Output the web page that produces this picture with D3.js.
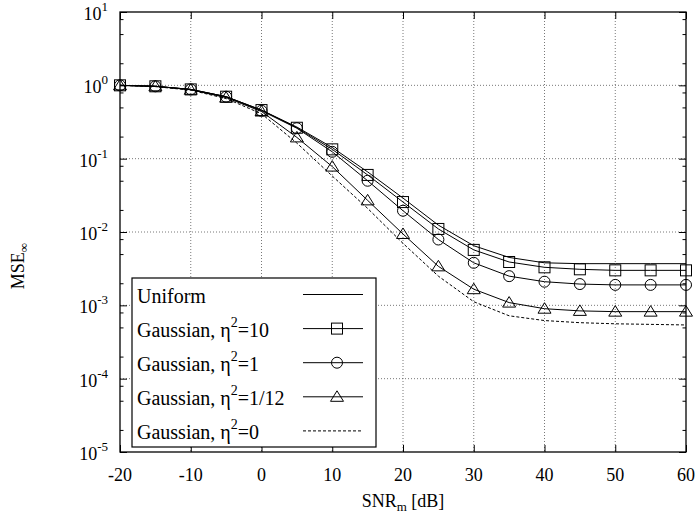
<!DOCTYPE html>
<html>
<head>
<meta charset="utf-8">
<script src="https://cdn.jsdelivr.net/npm/d3@7.9.0/dist/d3.min.js"></script>
<style>
  body { margin: 0; background: #fff; }
  text { font-family: "Liberation Serif", "Times New Roman", serif; fill: #000; }
</style>
</head>
<body>
<svg id="chart" width="699" height="518"></svg>
<script>
// SNR_m in dB
const snr = [-20, -15, -10, -5, 0, 5, 10, 15, 20, 25, 30, 35, 40, 45, 50, 55, 60];

// MSE values
const uniform  = [1.0, 0.97, 0.88, 0.70, 0.46, 0.27, 0.142, 0.066, 0.029, 0.0124, 0.0065, 0.0045, 0.0038, 0.0037, 0.0037, 0.0037, 0.0037];
const gauss10  = [1.0, 0.97, 0.88, 0.70, 0.46, 0.264, 0.134, 0.060, 0.0256, 0.011, 0.0057, 0.0039, 0.0033, 0.0031, 0.0030, 0.0030, 0.0030];
const gauss1   = [1.0, 0.97, 0.88, 0.70, 0.45, 0.26, 0.124, 0.050, 0.0195, 0.0079, 0.0038, 0.0025, 0.0021, 0.00195, 0.0019, 0.0019, 0.0019];
const gauss112 = [1.0, 0.97, 0.87, 0.68, 0.44, 0.195, 0.078, 0.027, 0.0094, 0.0034, 0.00166, 0.00109, 0.0009, 0.00084, 0.00082, 0.00082, 0.00082];
const gauss0   = [1.0, 0.96, 0.86, 0.66, 0.41, 0.163, 0.058, 0.021, 0.0070, 0.0025, 0.00112, 0.00072, 0.00062, 0.00058, 0.00056, 0.00055, 0.00054];

const xTicks = [-20, -10, 0, 10, 20, 30, 40, 50, 60];
const yExps = [1, 0, -1, -2, -3, -4, -5];

const series = [
  { pre: 'Uniform', sup: '', post: '', values: uniform, marker: null, dash: null },
  { pre: 'Gaussian, \u03B7', sup: '2', post: '=10', values: gauss10, marker: 'square', dash: null },
  { pre: 'Gaussian, \u03B7', sup: '2', post: '=1', values: gauss1, marker: 'circle', dash: null },
  { pre: 'Gaussian, \u03B7', sup: '2', post: '=1/12', values: gauss112, marker: 'triangle', dash: null },
  { pre: 'Gaussian, \u03B7', sup: '2', post: '=0', values: gauss0, marker: null, dash: '3,2' }
];

const pLeft = 120, pRight = 686, pTop = 12, pBottom = 452;
const svg = d3.select('#chart');

const x = d3.scaleLinear().domain([-20, 60]).range([pLeft, pRight]);
const y = d3.scaleLog().domain([1e-5, 10]).range([pBottom, pTop]);

const majorY = yExps.map(e => Math.pow(10, e));
let minorY = [];
for (let e = -5; e < 1; e++) [2, 5, 8].forEach(m => minorY.push(m * Math.pow(10, e)));

// grid
const grid = svg.append('g').attr('stroke', '#555').attr('stroke-width', 0.8).attr('stroke-dasharray', '1,2');
xTicks.slice(1, -1).forEach(t => {
  grid.append('line').attr('x1', x(t)).attr('x2', x(t)).attr('y1', pTop).attr('y2', pBottom);
});
majorY.slice(1, -1).forEach(v => {
  grid.append('line').attr('x1', pLeft).attr('x2', pRight).attr('y1', y(v)).attr('y2', y(v));
});

// axes, ticks pointing inward
function styleAxis(g) {
  g.select('.domain').remove();
  g.selectAll('line').attr('stroke', '#000');
  g.selectAll('text').remove();
}
svg.append('g').attr('transform', `translate(0,${pBottom})`)
  .call(d3.axisBottom(x).tickValues(xTicks).tickSize(-7)).call(styleAxis);
svg.append('g').attr('transform', `translate(0,${pTop})`)
  .call(d3.axisTop(x).tickValues(xTicks).tickSize(-7)).call(styleAxis);
svg.append('g').attr('transform', `translate(${pLeft},0)`)
  .call(d3.axisLeft(y).tickValues(majorY).tickSize(-7)).call(styleAxis);
svg.append('g').attr('transform', `translate(${pRight},0)`)
  .call(d3.axisRight(y).tickValues(majorY).tickSize(-7)).call(styleAxis);
svg.append('g').attr('transform', `translate(${pLeft},0)`)
  .call(d3.axisLeft(y).tickValues(minorY).tickSize(-3.5)).call(styleAxis);
svg.append('g').attr('transform', `translate(${pRight},0)`)
  .call(d3.axisRight(y).tickValues(minorY).tickSize(-3.5)).call(styleAxis);

svg.append('rect').attr('x', pLeft).attr('y', pTop).attr('width', pRight - pLeft).attr('height', pBottom - pTop)
  .attr('fill', 'none').attr('stroke', '#000').attr('stroke-width', 1.3);

// tick labels
svg.append('g').selectAll('text').data(xTicks).join('text')
  .attr('x', d => x(d)).attr('y', pBottom + 29)
  .attr('text-anchor', 'middle').attr('font-size', 18).text(d => d);

const yl = svg.append('g').selectAll('text').data(yExps).join('text')
  .attr('x', 108).attr('y', d => y(Math.pow(10, d)) + 8)
  .attr('text-anchor', 'end').attr('font-size', 18);
yl.append('tspan').text('10');
yl.append('tspan').attr('dy', -9).attr('font-size', 13).text(d => d);

// axis titles
const xt = svg.append('text').attr('x', 403).attr('y', 507).attr('text-anchor', 'middle').attr('font-size', 18);
xt.append('tspan').text('SNR');
xt.append('tspan').attr('dy', 4).attr('font-size', 13).text('m');
xt.append('tspan').attr('dy', -4).text(' [dB]');

const yt = svg.append('text').attr('transform', 'translate(24,266) rotate(-90)').attr('text-anchor', 'middle').attr('font-size', 18);
yt.append('tspan').text('MSE');
yt.append('tspan').attr('dy', 4).attr('font-size', 13).text('\u221E');

// markers
function drawMarker(g, type, cx, cy) {
  if (type === 'square') {
    g.append('rect').attr('x', cx - 5.5).attr('y', cy - 5.5).attr('width', 11).attr('height', 11);
  } else if (type === 'circle') {
    g.append('circle').attr('cx', cx).attr('cy', cy).attr('r', 5.5);
  } else if (type === 'triangle') {
    g.append('path').attr('d', `M${cx},${cy - 6}L${cx + 6.5},${cy + 4.5}L${cx - 6.5},${cy + 4.5}Z`);
  }
}

const line = d3.line().x((d, i) => x(snr[i])).y(d => y(d));
const plot = svg.append('g');
series.forEach(s => {
  plot.append('path').attr('d', line(s.values)).attr('fill', 'none')
    .attr('stroke', '#000').attr('stroke-width', 1)
    .attr('stroke-dasharray', s.dash);
  if (s.marker) {
    const mg = plot.append('g').attr('fill', 'none').attr('stroke', '#000').attr('stroke-width', 1);
    s.values.forEach((v, i) => drawMarker(mg, s.marker, x(snr[i]), y(v)));
  }
});

// legend
const lg = svg.append('g');
lg.append('rect').attr('x', 132).attr('y', 278).attr('width', 244).attr('height', 169)
  .attr('fill', '#fff').attr('stroke', '#000').attr('stroke-width', 1.2);
series.forEach((s, i) => {
  const cy = 294.5 + i * 34.1;
  const t = lg.append('text').attr('x', 137).attr('y', cy + 8).attr('font-size', 20);
  t.append('tspan').text(s.pre);
  if (s.sup) {
    t.append('tspan').attr('dy', -10).attr('font-size', 14).text(s.sup);
    t.append('tspan').attr('dy', 10).text(s.post);
  }
  lg.append('line').attr('x1', 303).attr('x2', 363).attr('y1', cy).attr('y2', cy)
    .attr('stroke', '#000').attr('stroke-width', 1).attr('stroke-dasharray', s.dash);
  if (s.marker) {
    const mg = lg.append('g').attr('fill', 'none').attr('stroke', '#000');
    drawMarker(mg, s.marker, 337, cy);
  }
});
</script>
</body>
</html>
